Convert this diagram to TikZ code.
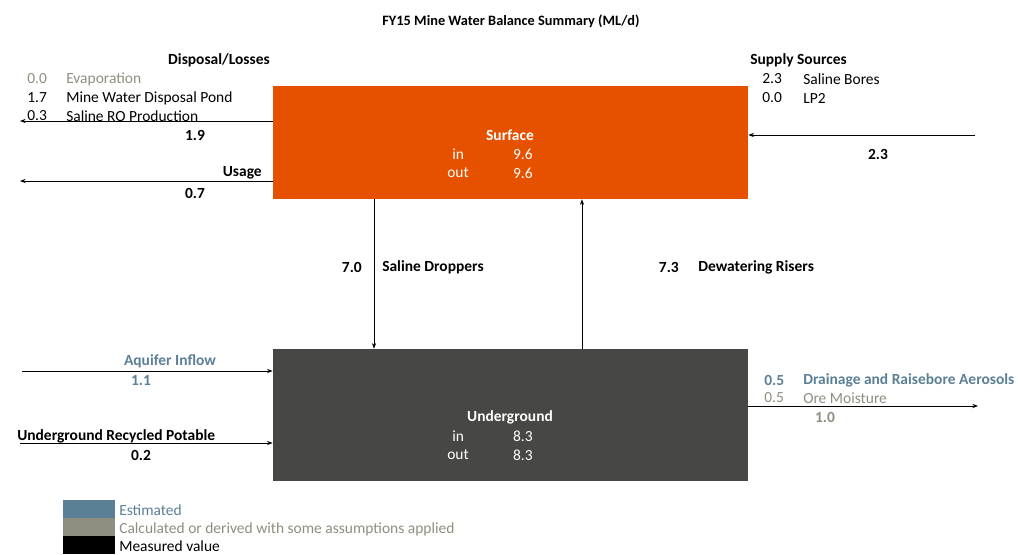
\documentclass[tikz,border=0pt]{standalone}
\usepackage{fontspec}
\setmainfont{Carlito}
\usetikzlibrary{arrows.meta, positioning}
\definecolor{surfaceorange}{RGB}{230,81,0}
\definecolor{ugrey}{RGB}{71,72,69}
\definecolor{estblue}{RGB}{91,127,149}
\definecolor{calcgrey}{RGB}{142,142,128}
\tikzstyle{box} = [rectangle, inner sep=0pt, minimum width=11.875cm]

\begin{document}
\begin{tikzpicture}[
        x=0.025cm, y=-0.025cm,
        font=\fontsize{11}{13}\selectfont,
        txt/.style={inner sep=0pt, anchor=west},
        rtxt/.style={inner sep=0pt, anchor=east},
        bold/.style={font=\fontsize{11}{13}\selectfont\bfseries},
        est/.style={text=estblue},
        calc/.style={text=calcgrey},
        boxtxt/.style={inner sep=0pt, text=white},
        flow/.style={-{Stealth[length=4pt, width=3pt]}, semithick}
    ]
        \useasboundingbox (0,0) rectangle (1018,554);

        % Title
        \node[font=\fontsize{10.2}{12}\selectfont\bfseries] (title) at (511,21) {FY15 Mine Water Balance Summary (ML/d)};

        % Boxes
        \node[box, fill=surfaceorange, minimum height=2.825cm] (surface) at (510.5,142.5) {};
        \node[box, fill=ugrey, minimum height=3.3cm] (underground) at (510.5,415) {};

        \node[boxtxt, bold] (surfname) at (510,135) {Surface};
        \node[boxtxt, anchor=west] (surfin) at (452,154) {in};
        \node[boxtxt, anchor=east] (surfinv) at (533,154) {9.6};
        \node[boxtxt, anchor=west] (surfout) at (447,173) {out};
        \node[boxtxt, anchor=east] (surfoutv) at (533,173) {9.6};

        \node[boxtxt, bold] (ugname) at (510,417) {Underground};
        \node[boxtxt, anchor=west] (ugin) at (452,436) {in};
        \node[boxtxt, anchor=east] (uginv) at (533,436) {8.3};
        \node[boxtxt, anchor=west] (ugout) at (447,455) {out};
        \node[boxtxt, anchor=east] (ugoutv) at (533,455) {8.3};

        % Disposal/Losses (left top)
        \node[rtxt, bold] (disphead) at (270,60) {Disposal/Losses};
        \node[txt, calc] (evapv) at (27,79) {0.0};
        \node[txt, calc] (evap) at (66,79) {Evaporation};
        \node[txt] (pondv) at (27,98) {1.7};
        \node[txt] (pond) at (66,98) {Mine Water Disposal Pond};
        \node[txt] (rov) at (27,116) {0.3};
        \node[txt] (ro) at (66,116) {Saline RO Production};
        \coordinate (dispend) at (20,121);
        \node[bold, inner sep=0pt] (disptot) at (195,135) {1.9};

        \node[rtxt, bold] (usagehead) at (262,173) {Usage};
        \coordinate (usageend) at (20,181);
        \node[bold, inner sep=0pt] (usagetot) at (195,193) {0.7};

        % Supply Sources (right top)
        \node[txt, bold] (supphead) at (750,60) {Supply Sources};
        \node[txt] (boresv) at (762,79) {2.3};
        \node[txt] (bores) at (803,79) {Saline Bores};
        \node[txt] (lpv) at (762,98) {0.0};
        \node[txt] (lp) at (803,98) {LP2};
        \coordinate (suppstart) at (975,135);
        \node[bold, inner sep=0pt] (supptot) at (878,154) {2.3};

        % Between boxes
        \node[rtxt, bold] (dropv) at (362,267) {7.0};
        \node[txt, bold] (drop) at (382,267) {Saline Droppers};
        \node[rtxt, bold] (risev) at (679,267) {7.3};
        \node[txt, bold] (rise) at (698,267) {Dewatering Risers};

        % Underground inflows (left bottom)
        \node[bold, est, inner sep=0pt] (aquhead) at (170,361) {Aquifer Inflow};
        \coordinate (aqustart) at (22,371);
        \node[bold, est, inner sep=0pt] (aqutot) at (141,381) {1.1};

        \node[txt, bold] (recyhead) at (17,436) {Underground Recycled Potable};
        \coordinate (recystart) at (20,443);
        \node[bold, inner sep=0pt] (recytot) at (141,455) {0.2};

        % Underground losses (right bottom)
        \node[txt, bold, est] (drainv) at (764,380) {0.5};
        \node[txt, bold, est] (drain) at (803,380) {Drainage and Raisebore Aerosols};
        \node[txt, calc] (orev) at (764,398) {0.5};
        \node[txt, calc] (ore) at (803,398) {Ore Moisture};
        \coordinate (oreend) at (978,406);
        \node[bold, calc, inner sep=0pt] (oretot) at (825,417) {1.0};

        % Connectors
        \draw[flow] (surface.west |- dispend) -- (dispend);
        \draw[flow] (surface.west |- usageend) -- (usageend);
        \draw[flow] (suppstart) -- (surface.east |- suppstart);
        \draw[flow] (surface.south -| 374,0) -- (underground.north -| 374,0);
        \draw[flow] (underground.north -| 582,0) -- (surface.south -| 582,0);
        \draw[flow] (aqustart) -- (underground.west |- aqustart);
        \draw[flow] (recystart) -- (underground.west |- recystart);
        \draw[flow] (underground.east |- oreend) -- (oreend);

        % Legend
        \node[box, fill=estblue, minimum width=1.3cm, minimum height=0.45cm, anchor=north west] (legest) at (63,500) {};
        \node[box, fill=calcgrey, minimum width=1.3cm, minimum height=0.45cm, anchor=north west] (legcalc) at (63,518) {};
        \node[box, fill=black, minimum width=1.3cm, minimum height=0.45cm, anchor=north west] (legmeas) at (63,536) {};
        \node[txt, est] (legesttxt) at (119,510) {Estimated};
        \node[txt, calc] (legcalctxt) at (119,529) {Calculated or derived with some assumptions applied};
        \node[txt] (legmeastxt) at (119,546) {Measured value};
    \end{tikzpicture}
\end{document}
